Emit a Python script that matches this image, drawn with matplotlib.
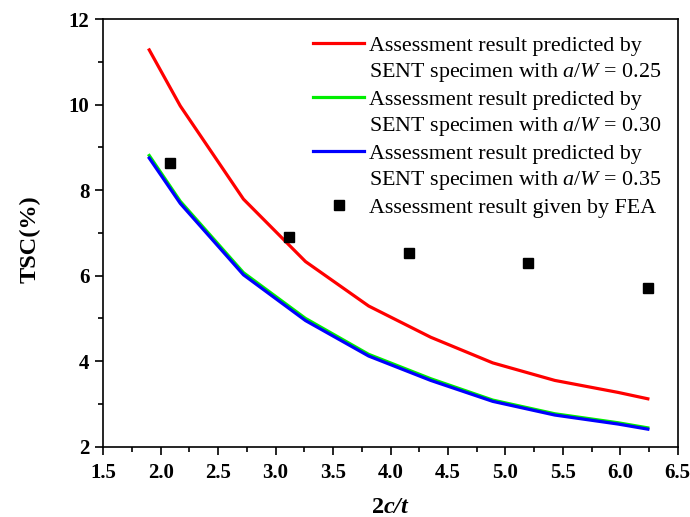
import matplotlib
matplotlib.use("Agg")
import matplotlib.pyplot as plt
from matplotlib.lines import Line2D
from matplotlib.ticker import MultipleLocator

plt.rcParams["font.family"] = ["Liberation Serif", "DejaVu Serif"]
plt.rcParams["mathtext.fontset"] = "custom"
plt.rcParams["mathtext.rm"] = "Liberation Serif"
plt.rcParams["mathtext.it"] = "Liberation Serif:italic"
plt.rcParams["mathtext.bf"] = "Liberation Serif:bold"
plt.rcParams["mathtext.bfit"] = "Liberation Serif:italic:bold"

# 2c/t values and predicted TSC (%) for the three SENT a/W ratios
crack_ratio = [1.90, 2.17, 2.72, 3.26, 3.81, 4.35, 4.89, 5.43, 5.98, 6.24]
tsc_aw025 = [11.28, 9.97, 7.79, 6.33, 5.29, 4.56, 3.96, 3.55, 3.27, 3.12]
tsc_aw030 = [8.81, 7.74, 6.07, 5.00, 4.16, 3.59, 3.09, 2.77, 2.56, 2.44]
tsc_aw035 = [8.75, 7.69, 6.02, 4.95, 4.12, 3.55, 3.06, 2.74, 2.53, 2.41]

# FEA assessment points
fea_ratio = [2.08, 3.12, 4.16, 5.20, 6.24]
fea_tsc = [8.63, 6.91, 6.54, 6.29, 5.70]

series_labels = ["0.25", "0.30", "0.35"]
series_colors = ["#ff0000", "#00ee00", "#0000ff"]

fig = plt.figure(figsize=(6.9, 5.17), dpi=100)
ax = fig.add_axes([0.1497, 0.136, 0.8325, 0.827])

handles, labels = [], []
for vals, lab, col in zip([tsc_aw025, tsc_aw030, tsc_aw035], series_labels, series_colors):
    ln, = ax.plot(crack_ratio, vals, color=col, lw=2.3, solid_joinstyle="round")
    handles += [ln, Line2D([], [], color="none")]
    labels += ["Assessment result predicted by",
               "SENT specimen with $\\mathit{a/W}$ = " + lab]

sq, = ax.plot(fea_ratio, fea_tsc, ls="none", marker="s", ms=6.5, color="black")
handles.append(sq)
labels.append("Assessment result given by FEA")

ax.set_xlim(1.5, 6.5)
ax.set_ylim(2, 12)
ax.xaxis.set_major_locator(MultipleLocator(0.5))
ax.xaxis.set_minor_locator(MultipleLocator(0.25))
ax.yaxis.set_major_locator(MultipleLocator(2))
ax.yaxis.set_minor_locator(MultipleLocator(1))
ax.tick_params(which="both", direction="out", top=False, right=False, width=1.2)
ax.tick_params(which="major", length=6, labelsize=15, pad=4)
ax.tick_params(axis="x", which="major", pad=6)
ax.tick_params(which="minor", length=3.5)
for lbl in ax.get_xticklabels() + ax.get_yticklabels():
    lbl.set_fontweight("bold")
for sp in ax.spines.values():
    sp.set_linewidth(1.2)

ax.set_xlabel(r"$\mathbf{2}\mathbfit{c/t}$", fontsize=17.5)
ax.set_ylabel("TSC(%)", fontsize=17.5, fontweight="bold")
ax.xaxis.set_label_coords(0.5, -0.118)
ax.yaxis.set_label_coords(-0.110, 0.486)

leg = ax.legend(handles, labels, loc="upper left", bbox_to_anchor=(0.338, 0.998),
                frameon=False, fontsize=15.8, handlelength=2.35, handletextpad=0.22,
                labelspacing=0.245, borderaxespad=0.3)

fig.savefig("out.png", dpi=100)
